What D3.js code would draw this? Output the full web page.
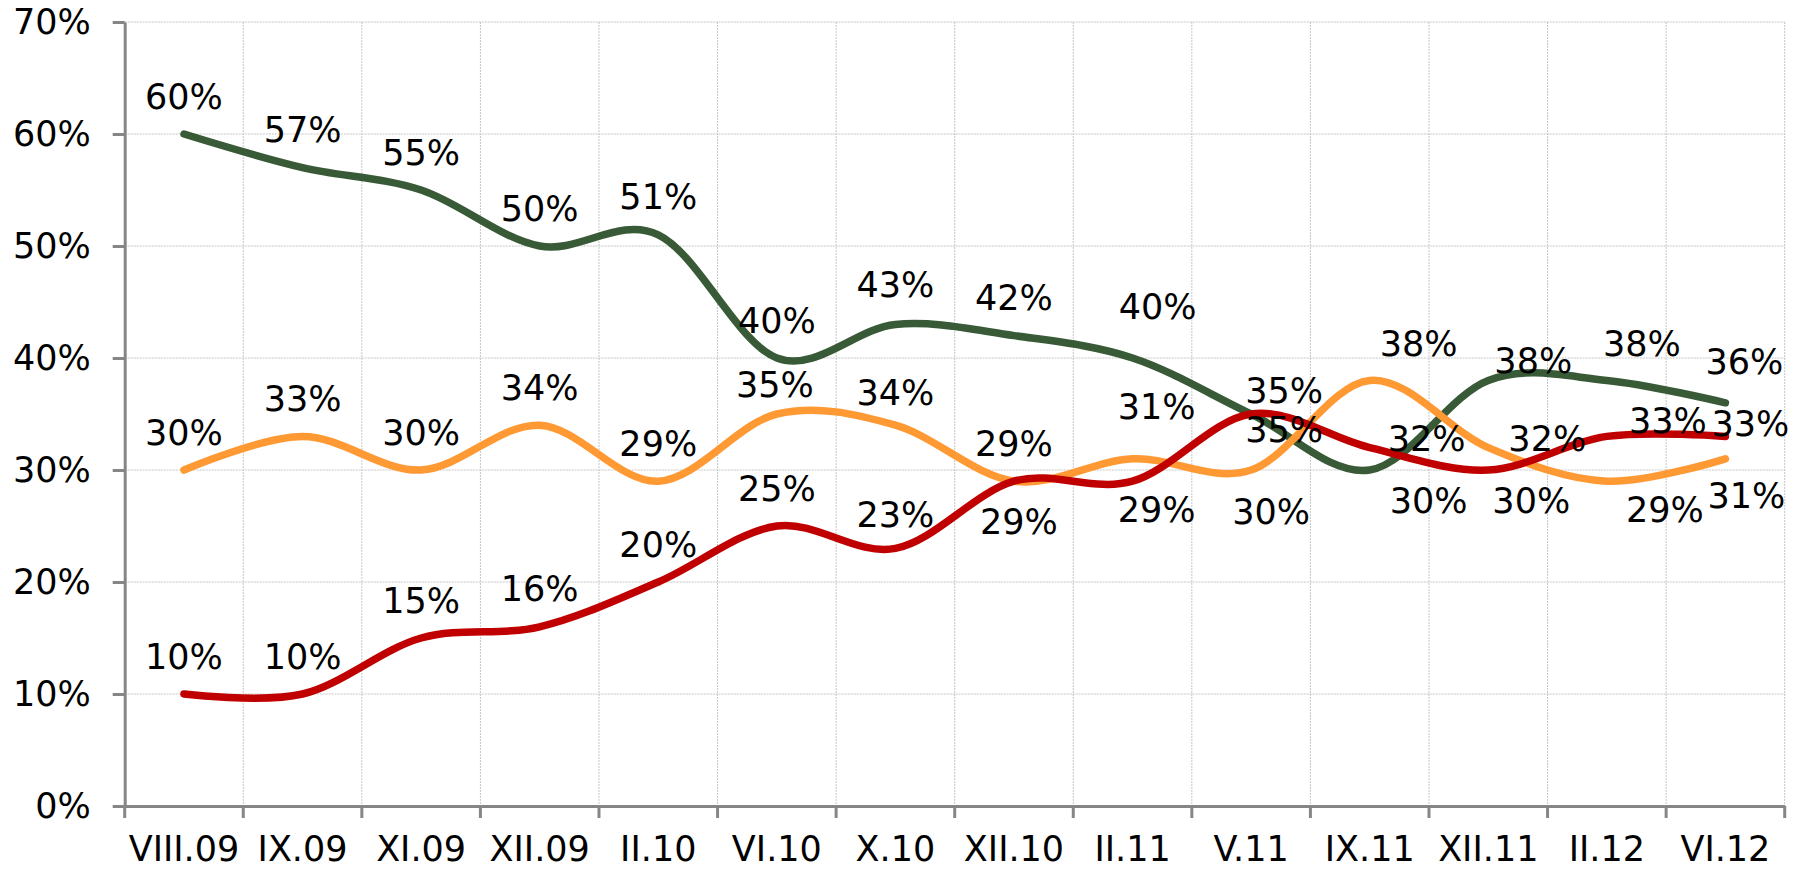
<!DOCTYPE html>
<html>
<head>
<meta charset="utf-8">
<script src="https://cdnjs.cloudflare.com/ajax/libs/d3/7.8.5/d3.min.js"></script>
<style>
  html, body { margin: 0; padding: 0; background: #fff; }
  svg text { font-family: Verdana, "DejaVu Sans", sans-serif; fill: #000; }
</style>
</head>
<body>
<div id="chart"></div>
<script>
// categories and values (share of respondents)
const periods = ['VIII.09', 'IX.09', 'XI.09', 'XII.09', 'II.10', 'VI.10', 'X.10',
  'XII.10', 'II.11', 'V.11', 'IX.11', 'XII.11', 'II.12', 'VI.12'];

const greenValues = [60, 57, 55, 50, 51, 40, 43, 42, 40, 35, 30, 38, 38, 36];
const orangeValues = [30, 33, 30, 34, 29, 35, 34, 29, 31, 30, 38, 32, 29, 31];
const redValues = [10, 10, 15, 16, 20, 25, 23, 29, 29, 35, 32, 30, 33, 33];

const yTicks = [0, 10, 20, 30, 40, 50, 60, 70];

const w = 1807,
  h = 870;
const space = { top: 22, right: 22.3, bottom: 64, left: 124.7 };

// label nudges that the original chart had moved by hand: [dx, dy] of glyph centre
const labelNudge = {
  green: { 6: [0, -40], 8: [25, -52], 9: [33, 15], 10: [59, 30], 11: [45, -20], 12: [35, -37], 13: [19, -41] },
  orange: { 5: [-2, -30], 6: [0, -33], 8: [24, -52], 9: [20, 41], 10: [49, -37], 11: [59, -9], 12: [58, 28], 13: [21, 37] },
  red: { 6: [0, -34], 7: [5, 40], 8: [24, 28], 9: [33, -24], 10: [57, -9], 11: [43, 30], 12: [61, -16], 13: [25, -13] }
};

const series = [
  { key: 'green', color: '#385a36', values: greenValues },
  { key: 'orange', color: '#ff9933', values: orangeValues },
  { key: 'red', color: '#c00000', values: redValues }
];

const fontSize = '35px';

const svg = d3.select('#chart')
  .append('svg')
  .attr('width', w)
  .attr('height', h);

const xScale = d3.scaleBand()
  .domain(periods)
  .range([space.left, w - space.right])
  .padding(0);

const yScale = d3.scaleLinear()
  .domain([0, 70])
  .range([h - space.bottom, space.top]);

const cx = p => xScale(p) + xScale.bandwidth() / 2;
const gridColor = '#c6c6c6';
const axisColor = '#868686';

// grid
const grid = svg.append('g').attr('class', 'grid');
grid.selectAll('.hgrid')
  .data(yTicks.filter(t => t > 0))
  .enter()
  .append('line')
  .attr('x1', space.left)
  .attr('x2', w - space.right)
  .attr('y1', d => yScale(d))
  .attr('y2', d => yScale(d))
  .attr('stroke', gridColor)
  .attr('stroke-width', 1)
  .attr('stroke-dasharray', '2,1');

grid.selectAll('.vgrid')
  .data(periods)
  .enter()
  .append('line')
  .attr('x1', d => xScale(d) + xScale.bandwidth())
  .attr('x2', d => xScale(d) + xScale.bandwidth())
  .attr('y1', yScale(70))
  .attr('y2', yScale(0))
  .attr('stroke', gridColor)
  .attr('stroke-width', 1)
  .attr('stroke-dasharray', '2,1');

// y axis
const yAxis = d3.axisLeft(yScale)
  .tickValues(yTicks)
  .tickFormat(d => d + '%')
  .tickSizeInner(12)
  .tickSizeOuter(0)
  .tickPadding(22);

svg.append('g')
  .attr('id', 'y-axis')
  .attr('transform', `translate(${space.left}, 0)`)
  .call(yAxis)
  .call(g => g.selectAll('line, path').attr('stroke', axisColor).attr('stroke-width', 3))
  .call(g => g.selectAll('text').style('font-size', fontSize));

// x axis, labels centred in bands, ticks on band edges
const xAxis = d3.axisBottom(xScale)
  .tickSize(0)
  .tickPadding(30);

const xg = svg.append('g')
  .attr('id', 'x-axis')
  .attr('transform', `translate(0, ${yScale(0)})`)
  .call(xAxis)
  .call(g => g.select('path').attr('stroke', axisColor).attr('stroke-width', 3))
  .call(g => g.selectAll('text').style('font-size', fontSize));

xg.selectAll('.edge')
  .data([space.left].concat(periods.map(p => xScale(p) + xScale.bandwidth())))
  .enter()
  .append('line')
  .attr('x1', d => d)
  .attr('x2', d => d)
  .attr('y1', 0)
  .attr('y2', 12)
  .attr('stroke', axisColor)
  .attr('stroke-width', 3);

// lines
const line = d3.line()
  .x((d, i) => cx(periods[i]))
  .y(d => yScale(d))
  .curve(d3.curveCardinal.tension(0));

svg.append('g')
  .attr('class', 'lines')
  .selectAll('path')
  .data(series)
  .enter()
  .append('path')
  .attr('d', d => line(d.values))
  .attr('fill', 'none')
  .attr('stroke', d => d.color)
  .attr('stroke-width', 7.5)
  .attr('stroke-linecap', 'round')
  .attr('stroke-linejoin', 'round');

// data labels
const labels = svg.append('g').attr('class', 'labels');
series.forEach(s => {
  labels.selectAll('.lbl-' + s.key)
    .data(s.values)
    .enter()
    .append('text')
    .attr('class', 'lbl-' + s.key)
    .attr('text-anchor', 'middle')
    .attr('dy', '0.36em')
    .attr('x', (d, i) => cx(periods[i]) + ((labelNudge[s.key][i] || [0, -38])[0]))
    .attr('y', (d, i) => yScale(d) + ((labelNudge[s.key][i] || [0, -38])[1]))
    .style('font-size', fontSize)
    .text(d => d + '%');
});
</script>
</body>
</html>
